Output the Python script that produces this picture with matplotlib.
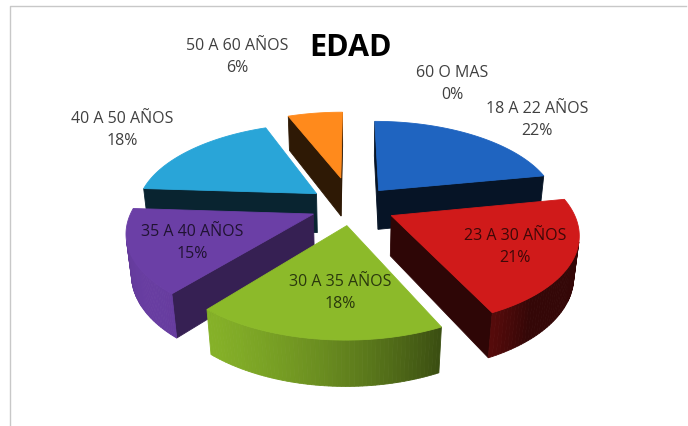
import numpy as np
import matplotlib.pyplot as plt
from matplotlib.patches import Polygon
import matplotlib.colors as mcolors

# Data
labels = ['18 A 22 AÑOS', '23 A 30 AÑOS', '30 A 35 AÑOS', '35 A 40 AÑOS',
          '40 A 50 AÑOS', '50 A 60 AÑOS', '60 O MAS']
pcts = [22, 21, 18, 15, 18, 6, 0]
colors = ['#1f64c0', '#d01a1a', '#8cba2a', '#6b3fa6', '#29a5d8', '#ff8a1c', '#999999']
explode = [0.24, 0.24, 0.22, 0.23, 0.25, 0.35, 0.0]
side_k = [0.2, 0.22, 0.3, 0.5, 0.22, 0.18, 0.3]

# label positions (pixels); labels on the slice are drawn darker
label_xy = [(537, 120), (515, 247), (340, 293), (192, 243), (122, 130), (237, 57), (452, 84)]
inside = [False, True, True, True, False, False, False]

# 3D view
phi = np.radians(28)
D = 5.0
Sx, Sy = 900, 920
cx, cy = 352, 206
h = 0.25
cam = D * np.array([0, -np.cos(phi), np.sin(phi)])
fwd = np.array([0, np.cos(phi), -np.sin(phi)])
up = np.array([0, np.sin(phi), np.cos(phi)])
light = np.array([-0.75, -0.6, 0.28])
light = light / np.linalg.norm(light)


def proj(P):
    P = np.atleast_2d(P)
    c = P - cam
    d = c @ fwd
    return np.column_stack([cx + Sx * c[:, 0] / d, cy - Sy * (c @ up) / d])


def scale(col, k):
    r, g, b = mcolors.to_rgb(col)
    return (r * k, g * k, b * k)


fig = plt.figure(figsize=(6.88, 4.26), dpi=100)
ax = fig.add_axes([0, 0, 1, 1])
ax.set_xlim(0, 688)
ax.set_ylim(426, 0)
ax.axis('off')

faces = []
tops = []
cum = 0
for i, p in enumerate(pcts):
    a0 = np.radians(90 - 360 * cum / 100)
    a1 = np.radians(90 - 360 * (cum + p) / 100)
    cum += p
    if p == 0:
        continue
    mid = (a0 + a1) / 2
    off = explode[i] * np.array([np.cos(mid), np.sin(mid), 0])
    th = np.linspace(a0, a1, 60)
    rim = np.column_stack([np.cos(th), np.sin(th), np.zeros_like(th)]) + off
    bot = rim - np.array([0, 0, h])
    apex = off.copy()
    apex_b = apex - np.array([0, 0, h])
    tops.append((np.vstack([apex, rim]), colors[i]))

    # curved side, shaded by a light from the front left
    for j in range(len(th) - 1):
        tm = (th[j] + th[j + 1]) / 2
        n = np.array([np.cos(tm), np.sin(tm), 0])
        pm = (rim[j] + rim[j + 1]) / 2 - np.array([0, 0, h / 2])
        if np.dot(n, cam - pm) > 0:
            k = 0.25 + 0.75 * max(0.0, float(n @ light))
            quad = np.array([rim[j], rim[j + 1], bot[j + 1], bot[j]])
            faces.append((np.linalg.norm(pm - cam), quad, scale(colors[i], k)))

    # radial sides
    for a, sgn, r_top, r_bot in [(a0, 1, rim[0], bot[0]), (a1, -1, rim[-1], bot[-1])]:
        n = np.array([np.cos(a + sgn * np.pi / 2), np.sin(a + sgn * np.pi / 2), 0])
        quad = np.array([apex, r_top, r_bot, apex_b])
        pm = quad.mean(axis=0)
        if np.dot(n, cam - pm) > 0:
            faces.append((np.linalg.norm(pm - cam), quad, scale(colors[i], side_k[i])))

faces.sort(key=lambda f: -f[0])
for _, quad, col in faces:
    ax.add_patch(Polygon(proj(quad), closed=True, facecolor=col, edgecolor=col, lw=0.6))
for pts, col in tops:
    ax.add_patch(Polygon(proj(pts), closed=True, facecolor=col, edgecolor=col, lw=0.6))

for i, lab in enumerate(labels):
    x, y = label_xy[i]
    col = scale(colors[i], 0.3) if inside[i] else '#404040'
    ax.text(x, y, f'{lab}\n{pcts[i]}%', ha='center', va='center',
            fontsize=11.5, family='Open Sans', linespacing=1.45, color=col)

ax.text(350, 48, 'EDAD', ha='center', va='center', fontsize=22,
        fontweight='bold', family='Open Sans', color='black')

# chart frame
ax.plot([10, 10, 686], [430, 6, 6], color='#c8c8c8', lw=1)

fig.savefig('out.png', dpi=100, facecolor='white')
